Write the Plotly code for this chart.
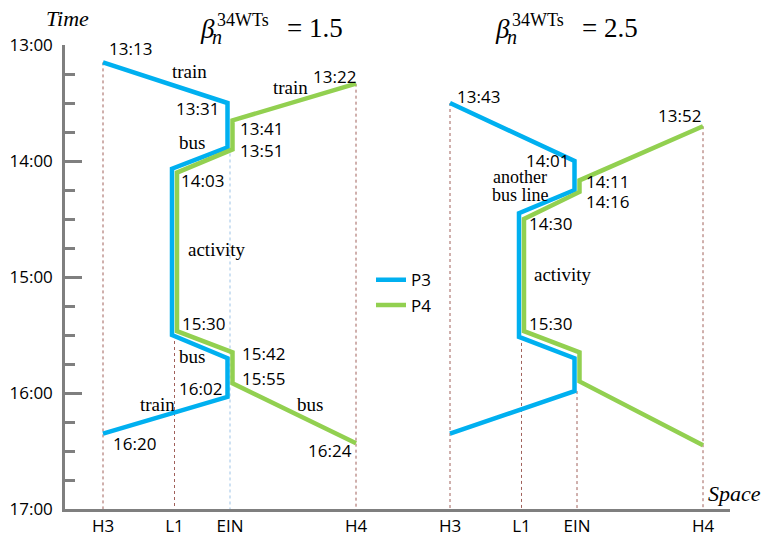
import plotly.graph_objects as go

# ---------------- data ----------------
stations = ["H3", "L1", "EIN", "H4"]
station_pos = [0, 71.5, 127, 253]          # relative distance along the corridor
panel_offset = [38, 385]                    # left panel (beta=1.5), right panel (beta=2.5)
panel_titles = ["1.5", "2.5"]

p3_stops = ["H3", "EIN", "EIN", "L1", "L1", "EIN", "EIN", "H3"]
p4_stops = ["H4", "EIN", "EIN", "L1", "L1", "EIN", "EIN", "H4"]

p3_left_times = ["13:09", "13:30", "13:53", "14:04", "15:30", "15:42", "16:02", "16:21"]
p4_left_times = ["13:20", "13:39", "13:54", "14:06", "15:28", "15:39", "15:55", "16:26"]
p3_right_times = ["13:30", "14:00", "14:15", "14:27", "15:31", "15:42", "15:59", "16:21"]
p4_right_times = ["13:42", "14:10", "14:16", "14:30", "15:28", "15:39", "15:54", "16:27"]

y_tick_labels = ["13:00", "14:00", "15:00", "16:00", "17:00"]

# guide (dotted) lines: station, start time, colour key, per panel
guides_left = [("H3", "13:09", "r"), ("L1", "15:30", "r"), ("EIN", "13:53", "b"), ("H4", "13:20", "r")]
guides_right = [("H3", "13:30", "r"), ("L1", "15:31", "r"), ("EIN", "15:59", "r"), ("H4", "13:42", "r")]

BLUE = "#00B0F0"
GREEN = "#92D050"
lane_shift = {"P3": -2.5, "P4": 2.5}
shared = {"L1", "EIN"}


def mins(t):
    h, m = t.split(":")
    return (int(h) - 13) * 60 + int(m)


def xs(stops, panel, person):
    out = []
    for s in stops:
        x = panel_offset[panel] + station_pos[stations.index(s)]
        if s in shared:
            x += lane_shift[person]
        out.append(x)
    return out


fig = go.Figure()

series = [
    ("P3", 0, p3_stops, p3_left_times, BLUE, True),
    ("P4", 0, p4_stops, p4_left_times, GREEN, True),
    ("P3", 1, p3_stops, p3_right_times, BLUE, False),
    ("P4", 1, p4_stops, p4_right_times, GREEN, False),
]

shapes = []
for panel, guides in enumerate([guides_left, guides_right]):
    for st, t0, ck in guides:
        x = panel_offset[panel] + station_pos[stations.index(st)]
        shapes.append(dict(type="line", xref="x", yref="y", x0=x, x1=x, y0=mins(t0), y1=240,
                           line=dict(color="#9DC3E6" if ck == "b" else "#A0605A", width=1, dash="dot"),
                           layer="below"))

for name, panel, stops, times, col, show in series:
    fig.add_trace(go.Scatter(
        x=xs(stops, panel, name), y=[mins(t) for t in times], mode="lines",
        name=name, legendgroup=name, showlegend=show,
        line=dict(color=col, width=4.5), hoverinfo="skip"))

# ---------------- layout helpers ----------------
L, T, W, H = 65, 44.5, 665, 464.5


def ann(text, px, py, size=17, family="Open Sans", style="normal", xanchor="center"):
    return dict(text=text, x=(px - L) / W, y=1 - (py - T) / H, xref="paper", yref="paper",
                xanchor=xanchor, yanchor="middle", showarrow=False,
                font=dict(size=size, family=family, color="black", style=style))


SERIF = "Liberation Serif"
annotations = []

time_labels = [
    ("13:13", 130, 48), ("13:31", 197, 108), ("13:41", 261, 128), ("13:51", 261, 150),
    ("13:22", 334, 76), ("14:03", 202, 180), ("15:30", 203, 323), ("15:42", 263, 353),
    ("15:55", 263, 378), ("16:02", 200, 388), ("16:20", 134, 443), ("16:24", 330, 450),
    ("13:43", 478, 96), ("13:52", 679, 115), ("14:01", 547, 160), ("14:11", 607, 181),
    ("14:16", 607, 201), ("14:30", 550, 223), ("15:30", 550, 323),
]
for txt, px, py in time_labels:
    annotations.append(ann(txt, px, py, size=17))

mode_labels = [
    ("train", 189, 71, 19), ("train", 290, 87, 19), ("bus", 192, 142, 19), ("activity", 216, 249, 19),
    ("bus", 192, 356, 19), ("train", 157, 404, 19), ("bus", 310, 404, 19),
    ("another", 520, 177, 18), ("bus line", 520, 195, 18), ("activity", 562, 274, 19),
]
for txt, px, py, sz in mode_labels:
    annotations.append(ann(txt, px, py, size=sz, family=SERIF))

annotations.append(ann("Time", 67, 18, size=22, family=SERIF, style="italic"))
annotations.append(ann("Space", 734, 493, size=22, family=SERIF, style="italic"))

for bx, val in zip([207, 502], panel_titles):
    annotations.append(ann("β", bx, 28, size=27, family=SERIF, style="italic"))
    annotations.append(ann("34WTs", bx + 8, 19, size=18, family=SERIF, xanchor="left"))
    annotations.append(ann("n", bx + 10, 36, size=20, family=SERIF, style="italic"))
    annotations.append(ann("= " + val, bx + 78, 27, size=27, family=SERIF, xanchor="left"))

tickvals_x, ticktext_x = [], []
for off in panel_offset:
    for s, p in zip(stations, station_pos):
        tickvals_x.append(off + p)
        ticktext_x.append(s)

fig.update_layout(
    width=762, height=536,
    margin=dict(l=L, r=762 - L - W, t=T, b=536 - T - H, autoexpand=False),
    paper_bgcolor="white", plot_bgcolor="white",
    showlegend=True,
    legend=dict(x=(371 - L) / W, y=1 - (262 - T) / H, xanchor="left", yanchor="top",
                bgcolor="rgba(0,0,0,0)", font=dict(family="Open Sans", size=17, color="black"),
                tracegroupgap=0, itemwidth=30),
    xaxis=dict(range=[0, W], showgrid=False, zeroline=False, showline=True,
               linecolor="#7F7F7F", linewidth=2.5, ticks="", tickmode="array",
               tickvals=tickvals_x, ticktext=ticktext_x,
               tickfont=dict(family="Open Sans", size=17, color="black"), ticklabelstandoff=0),
    yaxis=dict(range=[240, 0], showgrid=False, zeroline=False, showline=True,
               linecolor="#7F7F7F", linewidth=2.5, tickmode="array",
               tickvals=[0, 60, 120, 180, 240], ticktext=y_tick_labels,
               ticks="inside", ticklen=17, tickwidth=2.5, tickcolor="#7F7F7F",
               minor=dict(tickmode="array", tickvals=[15, 30, 45, 75, 90, 105, 135, 150, 165, 195, 210, 225],
                          ticks="inside", ticklen=10, tickwidth=2.5, tickcolor="#7F7F7F"),
               tickfont=dict(family="Open Sans", size=17, color="black"), ticklabelstandoff=6),
    shapes=shapes,
    annotations=annotations,
)

fig.write_html("out.html", config={"displayModeBar": False},
               post_script="document.body.style.margin='0';document.body.style.padding='0';")
